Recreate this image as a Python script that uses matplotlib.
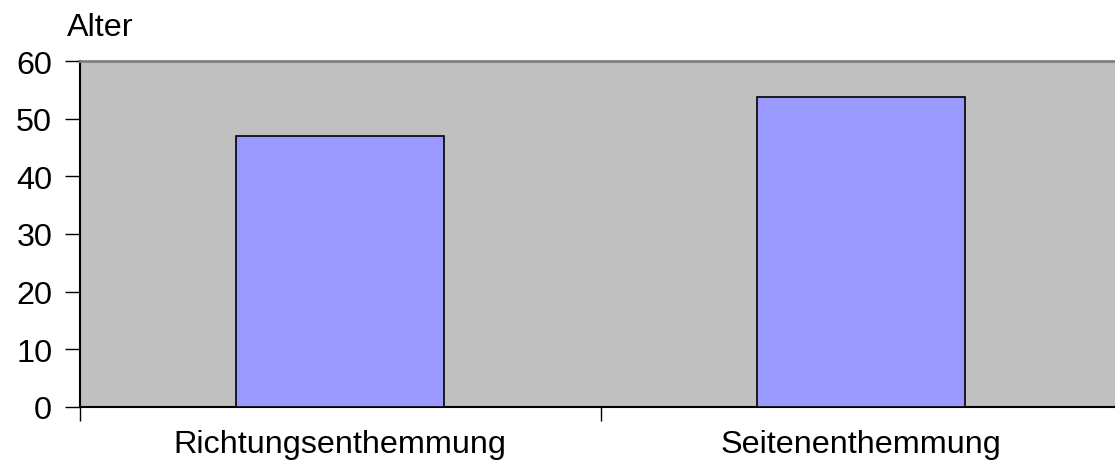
import matplotlib
matplotlib.use("Agg")
import matplotlib.pyplot as plt

categories = ["Richtungsenthemmung", "Seitenenthemmung"]
values = [47.0, 53.75]
yticks = [0, 10, 20, 30, 40, 50, 60]

plt.rcParams["font.family"] = ["Liberation Sans", "DejaVu Sans"]
FS = 23.3

W, H = 1115, 464
fig = plt.figure(figsize=(W / 100, H / 100), dpi=100)
left, right, top, bottom = 80, 1121, 62, 408
ax = fig.add_axes([left / W, 1 - bottom / H, (right - left) / W, (bottom - top) / H])
ax.set_facecolor("#C0C0C0")

x = range(len(categories))
ax.bar(x, values, width=0.4, color="#9999FF", edgecolor="black", linewidth=1.2, zorder=3)

ax.set_xlim(-0.5, len(categories) - 0.5)
ax.set_ylim(0, 60)
ax.set_yticks(yticks)
ax.set_yticklabels([str(v) for v in yticks], fontsize=FS)

# category labels centred between boundary ticks
ax.set_xticks([i - 0.5 for i in range(len(categories) + 1)])
ax.set_xticklabels([])
ax.set_xticks(list(x), minor=True)
ax.set_xticklabels(categories, minor=True, fontsize=FS)
ax.tick_params(axis="x", which="minor", length=0, pad=16)
ax.tick_params(axis="x", which="major", length=10, width=1, color="black")
ax.tick_params(axis="y", length=11, width=1, pad=9, color="black")

for s in ("left", "bottom"):
    ax.spines[s].set_color("black")
    ax.spines[s].set_linewidth(1.5)
ax.spines["top"].set_color("#808080")
ax.spines["top"].set_linewidth(2)
ax.spines["right"].set_visible(False)

fig.text(67 / W, 1 - 28 / H, "Alter", fontsize=FS, va="center", ha="left")

fig.savefig("out.png", dpi=100)
